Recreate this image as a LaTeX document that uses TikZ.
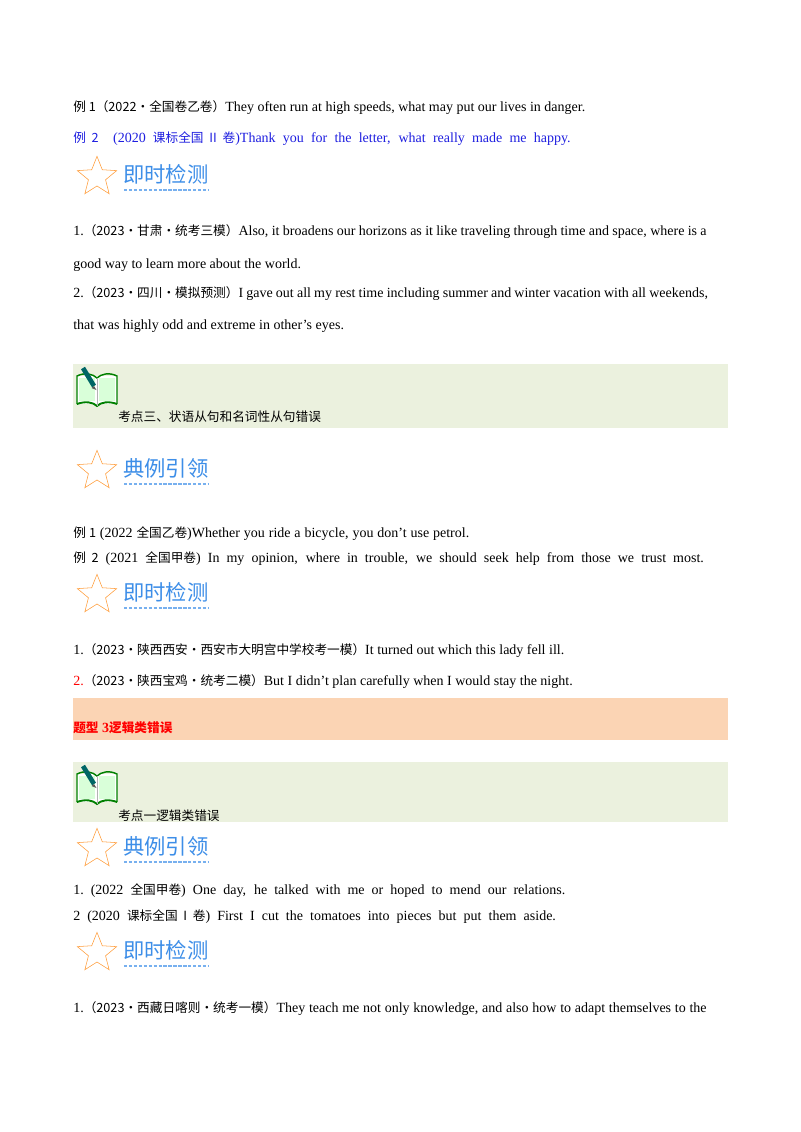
\documentclass[tikz,border=0pt]{standalone}
\usepackage{fontspec}
\setmainfont{Liberation Serif}
\newfontfamily\cjk{Noto Sans CJK SC}
\usetikzlibrary{shapes.geometric}
\definecolor{gbox}{HTML}{EBF1DE}
\definecolor{obox}{HTML}{FBD4B4}
\definecolor{hblue}{HTML}{3D8EE8}
\definecolor{tblue}{HTML}{1F1FE0}
\newcommand{\C}[1]{{\cjk\fontsize{9.5pt}{11pt}\selectfont #1}}
\newcommand{\jl}[2]{\makebox[#1][s]{#2}}
\tikzset{
 ln/.style={anchor=base west,inner sep=0pt,font=\fontsize{10.5pt}{12pt}\selectfont},
 hd/.style={anchor=west,inner sep=0pt,text=hblue,font=\cjk\fontsize{16pt}{17pt}\selectfont},
}
\newcommand{\head}[3]{% name, y, text
 \node[star,star points=5,star point ratio=2.3,draw=orange!80,thin,minimum size=31pt,inner sep=0pt] (#1s) at (97,#2+1) {};
 \node[hd] (#1t) at (123,#2-2) {#3};
 \draw[hblue!70,dash pattern=on 2.5pt off 1.2pt,line width=1.3pt] (124,#2+14) -- (#1t.east |- 0,#2+14);
}
\newcommand{\book}[2]{% name, y top
 \begin{scope}[shift={(75,#2)}]
  \fill[white] (2,8) rectangle (42,36);
  \fill[green!15] (4,10) rectangle (20,33);
  \fill[green!15] (24,10) rectangle (40,33);
  \draw[green!50!black,line width=1.1pt] (2,36) -- (2,8) .. controls (10,4) and (18,6) .. (22,10) .. controls (26,6) and (34,4) .. (42,8) -- (42,36);
  \draw[green!50!black,line width=1.4pt] (2,36) .. controls (10,33) and (18,34) .. (22,38) .. controls (26,34) and (34,33) .. (42,36);
  \draw[gray!60] (22,10) -- (22,38);
  \draw[teal!80!black,line width=3.5pt] (8,0) -- (19,18);
  \fill[gray!70!black] (19,18) -- (21.5,22) -- (16.5,20) -- cycle;
  \node[inner sep=0pt] (#1) at (22,20) {};
 \end{scope}
}
\begin{document}
\begin{tikzpicture}[x=0.75pt,y=-0.75pt]
\useasboundingbox (0,0) rectangle (800,1132);
\fill[white] (0,0) rectangle (800,1132);

\node[ln] (l1) at (73,111) {\C{例 1（2022·全国卷乙卷）}They often run at high speeds, what may put our lives in danger.};
\node[ln,text=tblue] (l2) at (73,142) {\jl{373pt}{\C{例 2}\ \ (2020 \C{课标全国 II 卷})Thank you for the letter, what really made me happy.}};
\head{h1}{176}{即时检测}

\node[ln] (l3) at (73,235) {\jl{475pt}{1.\C{（2023·甘肃·统考三模）}Also, it broadens our horizons as it like traveling through time and space, where is a}};
\node[ln] (l4) at (73,268) {good way to learn more about the world.};
\node[ln] (l5) at (73,297) {\jl{476pt}{2.\C{（2023·四川·模拟预测）}I gave out all my rest time including summer and winter vacation with all weekends,}};
\node[ln] (l6) at (73,329) {that was highly odd and extreme in other’s eyes.};

\fill[gbox] (73,364) rectangle (728,428);
\book{b1}{368}
\node[ln] (k1) at (118,421) {\C{考点三、状语从句和名词性从句错误}};
\head{h2}{470}{典例引领}

\node[ln] (l7) at (73,537) {\jl{297pt}{\C{例 1} (2022 \C{全国乙卷})Whether you ride a bicycle, you don’t use petrol.}};
\node[ln] (l8) at (73,562) {\jl{473pt}{\C{例 2} (2021 \C{全国甲卷}) In my opinion, where in trouble, we should seek help from those we trust most.}};
\head{h3}{594}{即时检测}

\node[ln] (l9) at (73,654) {1.\C{（2023·陕西西安·西安市大明宫中学校考一模）}It turned out which this lady fell ill.};
\node[ln] (l10) at (73,685) {\textcolor{red}{2.}\C{（2023·陕西宝鸡·统考二模）}But I didn’t plan carefully when I would stay the night.};

\fill[obox] (73,698) rectangle (728,740);
\node[ln,text=red] (t3) at (73,732) {\textbf{\C{\bfseries 题型} 3\C{\bfseries 逻辑类错误}}};

\fill[gbox] (73,762) rectangle (728,822);
\book{b2}{766}
\node[ln] (k2) at (118,820) {\C{考点一逻辑类错误}};
\head{h4}{848}{典例引领}

\node[ln] (l11) at (73,894) {\jl{369pt}{1.\ (2022 \C{全国甲卷}) One day, he talked with me or hoped to mend our relations.}};
\node[ln] (l12) at (73,920) {\jl{362pt}{2 (2020 \C{课标全国 I 卷}) First I cut the tomatoes into pieces but put them aside.}};
\head{h5}{952}{即时检测}

\node[ln] (l13) at (73,1012) {\jl{475pt}{1.\C{（2023·西藏日喀则·统考一模）}They teach me not only knowledge, and also how to adapt themselves to the}};
\end{tikzpicture}
\end{document}
